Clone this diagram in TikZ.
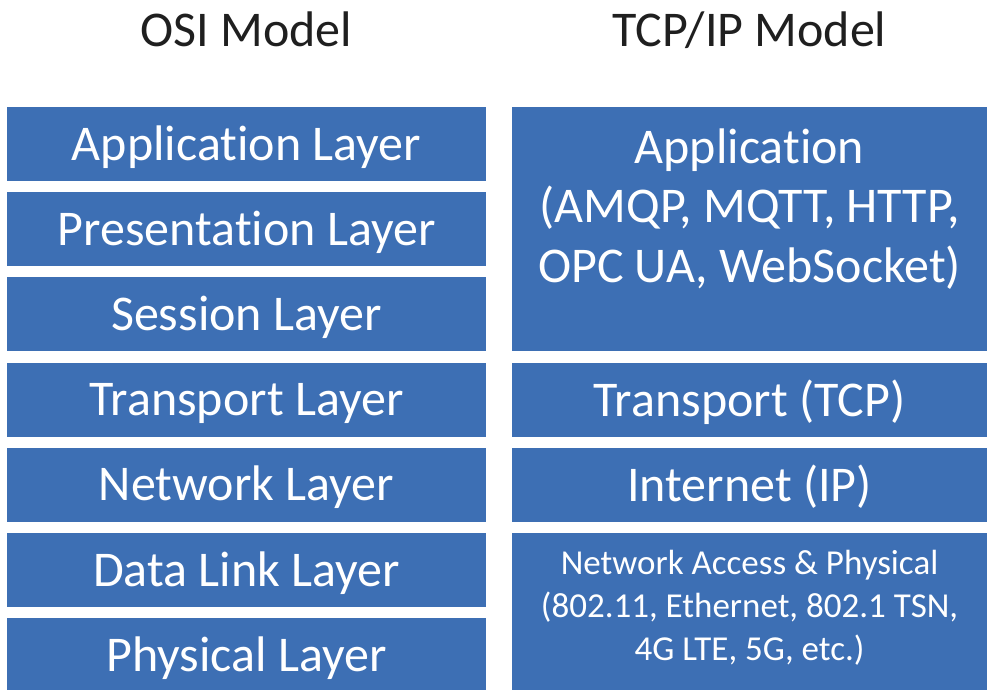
\documentclass[tikz,border=0pt]{standalone}
\usepackage{fontspec}
\setmainfont{Carlito}[Ligatures=NoCommon]
\definecolor{layerblue}{RGB}{61,111,180}
\tikzset{
  layer/.style={fill=layerblue, text=white, inner sep=0pt},
  big/.style={font=\fontsize{50}{59.5}\selectfont},
  small/.style={font=\fontsize{35}{43}\selectfont},
}

\begin{document}
\begin{tikzpicture}[x=1pt,y=-1pt]
  \useasboundingbox (0,0) rectangle (987,689);

  \node[big, text=black!88, anchor=base] (osi) at (246.5,46) {OSI Model};
  \node[big, text=black!88, anchor=base] (tcpip) at (749.5,46) {TCP/IP Model};

  \foreach \name/\txt [count=\i from 0] in {app/Application Layer, pres/Presentation Layer,
      sess/Session Layer, trans/Transport Layer, net/Network Layer,
      link/Data Link Layer, phys/Physical Layer} {
    \node[layer, big, minimum width=479pt, minimum height=74pt, text height=32.5pt, text depth=0pt]
      (osi-\name) at (246.5,144+85.17*\i) {\txt};
  }

  \node[layer, minimum width=475pt, minimum height=244pt] (tcp-app) at (749.5,229) {};
  \node[big, text=white, align=center, anchor=base] (tcp-app-txt) at (749.5,282)
    {Application\\(AMQP, MQTT, HTTP,\\OPC UA, WebSocket)};
  \node[layer, big, minimum width=475pt, minimum height=74pt, text height=32.5pt, text depth=0pt]
    (tcp-trans) at (749.5,400) {Transport (TCP)};
  \node[layer, big, minimum width=475pt, minimum height=74pt, text height=32.5pt, text depth=0pt]
    (tcp-inet) at (749.5,485) {Internet (IP)};
  \node[layer, minimum width=475pt, minimum height=159pt] (tcp-phys) at (749.5,612.5) {};
  \node[small, text=white, align=center, anchor=base] (tcp-phys-txt) at (749.5,660)
    {Network Access \& Physical\\(802.11, Ethernet, 802.1 TSN,\\4G LTE, 5G, etc.)};
\end{tikzpicture}
\end{document}
